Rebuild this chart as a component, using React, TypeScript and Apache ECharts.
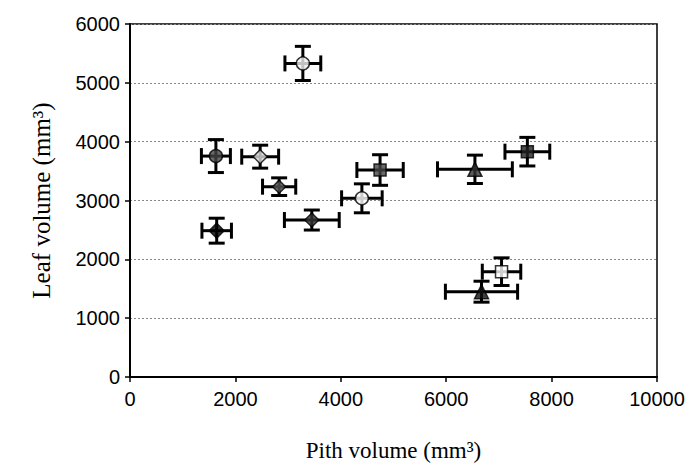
import React, { useEffect, useRef } from "react";
import * as echarts from "echarts";

const pithVolume = [3280, 1630, 2470, 2830, 1645, 3450, 4400, 4745, 6545, 7540, 7050, 6670];
const leafVolume = [5330, 3755, 3745, 3235, 2487, 2668, 3037, 3518, 3530, 3830, 1790, 1450];
const pithErr = [340, 275, 350, 315, 280, 520, 385, 440, 710, 425, 365, 685];
const leafErr = [290, 280, 195, 150, 212, 170, 246, 260, 241, 243, 235, 178];

const markerSymbols = ["circle", "circle", "diamond", "diamond", "diamond", "diamond", "circle", "rect", "triangle", "rect", "rect", "triangle"];
const markerFills = ["#f2f2f2", "#444", "#ddd", "#555", "#000", "#333", "#fff", "#444", "#333", "#222", "#fff", "#111"];
const markerSizes = [13, 13, 14, 13, 15, 14, 13, 12, 14, 12, 12, 14];

const xTicks = [0, 2000, 4000, 6000, 8000, 10000];
const yTicks = [0, 1000, 2000, 3000, 4000, 5000, 6000];

export default function App() {
  const ref = useRef<HTMLDivElement>(null);
  useEffect(() => {
    if (!ref.current) return;
    const chart = echarts.init(ref.current, null, { renderer: "svg" });
    const errData = pithVolume.map((x, i) => [x, leafVolume[i], pithErr[i], leafErr[i]]);
    const ptData = pithVolume.map((x, i) => ({
      value: [x, leafVolume[i]],
      symbol: markerSymbols[i],
      symbolSize: markerSizes[i],
      itemStyle: { color: markerFills[i], borderColor: "#000", borderWidth: 1.5 },
    }));
    chart.setOption({
      animation: false,
      backgroundColor: "#fff",
      grid: {
        left: 130,
        right: 31,
        top: 24,
        bottom: 94,
        show: true,
        borderColor: "#000",
        borderWidth: 1.5,
        backgroundColor: "transparent",
      },
      xAxis: {
        type: "value",
        min: xTicks[0],
        max: xTicks[xTicks.length - 1],
        interval: 2000,
        name: "Pith volume (mm³)",
        nameLocation: "middle",
        nameGap: 62,
        nameTextStyle: { fontFamily: "Liberation Serif", fontSize: 23, color: "#000" },
        axisLine: { show: true, lineStyle: { color: "#000", width: 2 } },
        axisTick: { show: true, length: 5, lineStyle: { color: "#000", width: 1.5 } },
        axisLabel: { fontFamily: "Liberation Sans", fontSize: 20, color: "#000", margin: 12, formatter: (v: number) => String(v) },
        splitLine: { show: false },
      },
      yAxis: {
        type: "value",
        min: yTicks[0],
        max: yTicks[yTicks.length - 1],
        interval: 1000,
        name: "Leaf volume (mm³)",
        nameLocation: "middle",
        nameGap: 76,
        nameRotate: 90,
        nameTextStyle: { fontFamily: "Liberation Serif", fontSize: 25, color: "#000" },
        axisLine: { show: true, lineStyle: { color: "#000", width: 2 } },
        axisTick: { show: true, length: 5, lineStyle: { color: "#000", width: 1.5 } },
        axisLabel: { fontFamily: "Liberation Sans", fontSize: 20, color: "#000", margin: 10, formatter: (v: number) => String(v) },
        splitLine: { show: true, lineStyle: { color: "#888", width: 1, type: [2, 2] } },
      },
      series: [
        {
          type: "custom",
          data: errData,
          z: 2,
          renderItem: (params: any, api: any) => {
            const x = api.value(0);
            const y = api.value(1);
            const xe = api.value(2);
            const ye = api.value(3);
            const c = api.coord([x, y]);
            const l = api.coord([x - xe, y]);
            const r = api.coord([x + xe, y]);
            const t = api.coord([x, y + ye]);
            const b = api.coord([x, y - ye]);
            const cap = 8;
            const style = { stroke: "#000", lineWidth: 3, fill: "none" };
            return {
              type: "group",
              children: [
                { type: "line", shape: { x1: l[0], y1: c[1], x2: r[0], y2: c[1] }, style },
                { type: "line", shape: { x1: l[0], y1: c[1] - cap, x2: l[0], y2: c[1] + cap }, style },
                { type: "line", shape: { x1: r[0], y1: c[1] - cap, x2: r[0], y2: c[1] + cap }, style },
                { type: "line", shape: { x1: c[0], y1: t[1], x2: c[0], y2: b[1] }, style },
                { type: "line", shape: { x1: c[0] - cap, y1: t[1], x2: c[0] + cap, y2: t[1] }, style },
                { type: "line", shape: { x1: c[0] - cap, y1: b[1], x2: c[0] + cap, y2: b[1] }, style },
              ],
            };
          },
        },
        {
          type: "scatter",
          z: 3,
          data: ptData,
        },
      ],
    });
    return () => chart.dispose();
  }, []);
  return <div ref={ref} style={{ position: "absolute", left: 0, top: 0, width: 688, height: 471 }} />;
}
